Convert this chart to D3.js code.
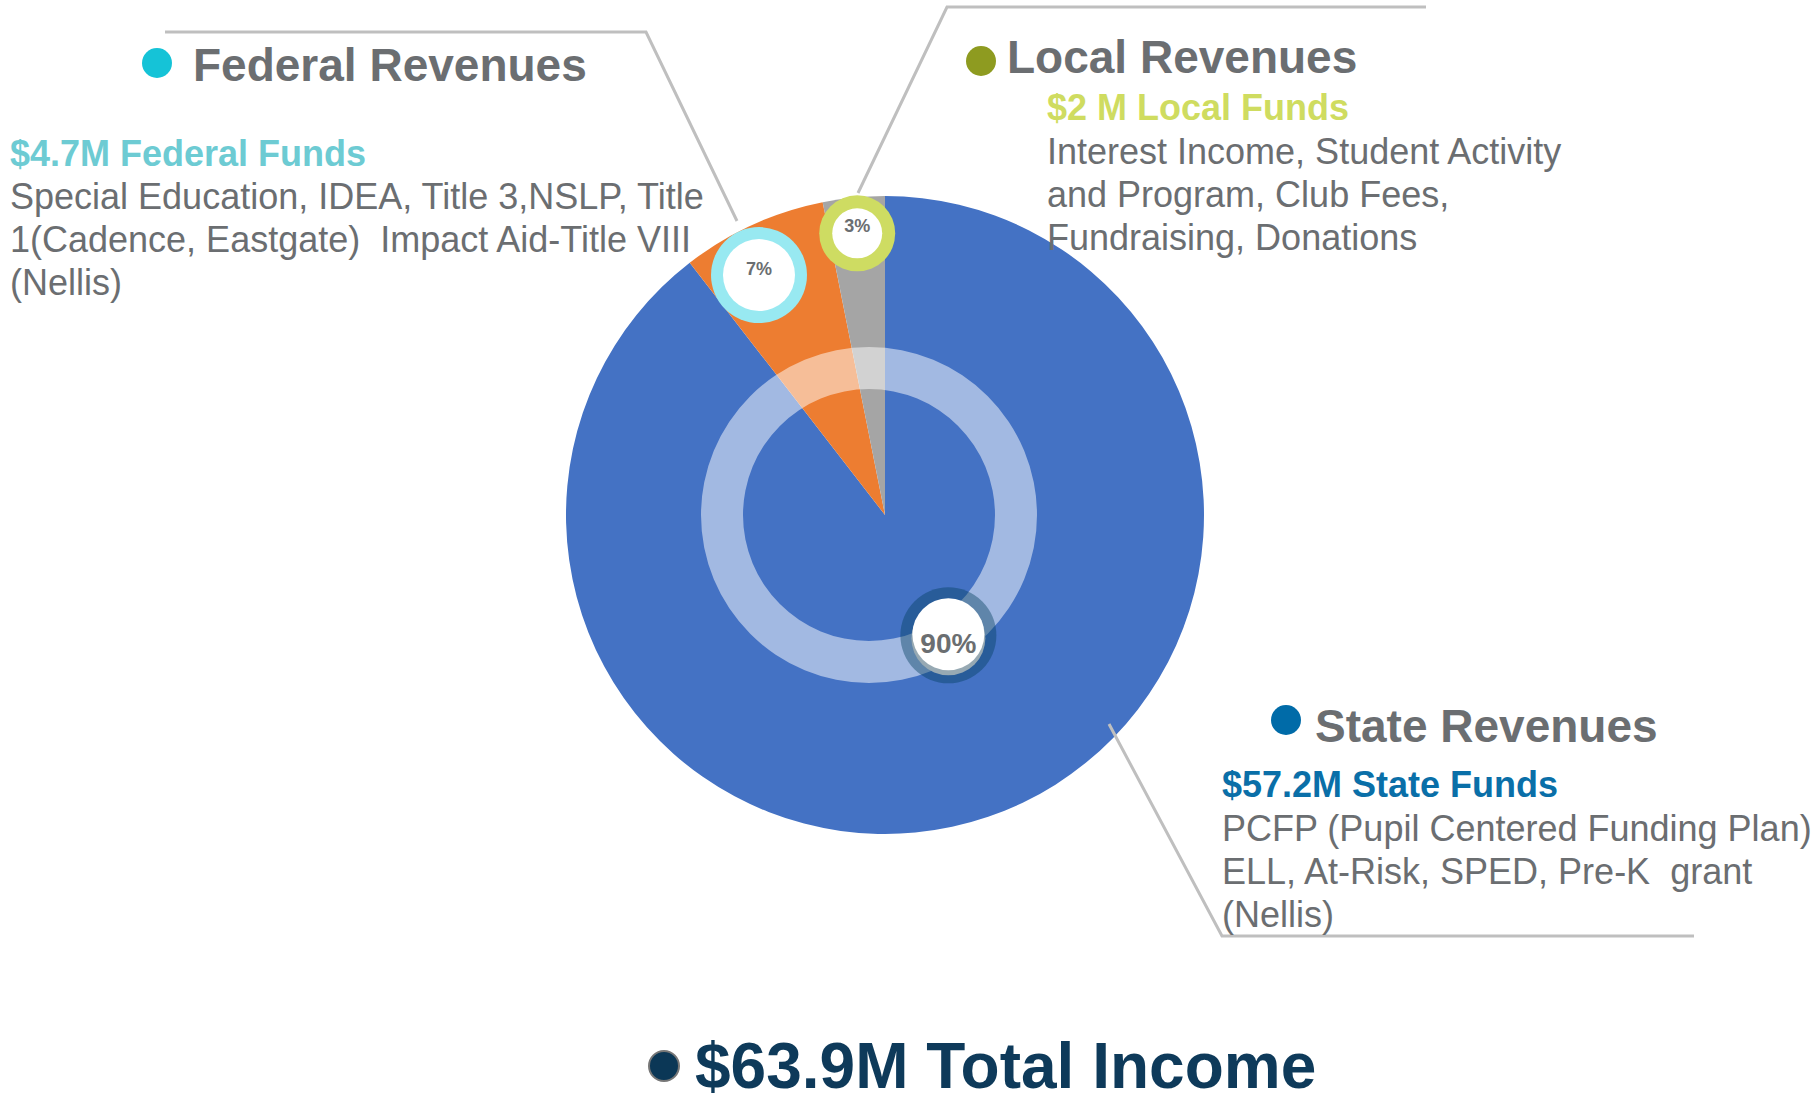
<!DOCTYPE html>
<html>
<head>
<meta charset="utf-8">
<script src="https://cdn.jsdelivr.net/npm/d3@7/dist/d3.min.js"></script>
<style>
  body { margin: 0; background: #fff; }
  svg { display: block; font-family: "Liberation Sans", Arial, sans-serif; }
  text { white-space: pre; }
</style>
</head>
<body>
<div class="d3-wrapper"></div>
<script>
// Data
const categories = ['State Revenues', 'Federal Revenues', 'Local Revenues'];
const amounts = [57.2, 4.7, 2.0];            // $M
const pctLabels = ['90%', '7%', '3%'];
const fundLabels = ['$57.2M State Funds', '$4.7M Federal Funds', '$2 M Local Funds'];
const descLines = [
  ['PCFP (Pupil Centered Funding Plan)', 'ELL, At-Risk, SPED, Pre-K  grant', '(Nellis)'],
  ['Special Education, IDEA, Title 3,NSLP, Title', '1(Cadence, Eastgate)  Impact Aid-Title VIII', '(Nellis)'],
  ['Interest Income, Student Activity', 'and Program, Club Fees,', 'Fundraising, Donations']
];
const totalLabel = '$63.9M Total Income';

const WIDTH = 1816, HEIGHT = 1095;
const PIE = { cx: 885, cy: 515, r: 319 };
const RING = { cx: 869, cy: 515, outer: 168, inner: 126 };

const sliceColors = ['#4472C4', '#ED7D31', '#A5A5A5'];
const dotColors = ['#006BA8', '#15C3D7', '#8E9B20'];
const fundColors = ['#0A6FA8', '#6DCBD3', '#CFDC60'];
const badgeColors = ['rgba(3,61,93,0.42)', '#98E9F1', '#CEDC62'];
const GRAY_TEXT = '#6B6E71';

// badge placement around the pie (radius from centre, angle tweak in degrees)
const badgeLayout = [
  { dist: 136, shift: -8.9, outer: 48, inner: 37, font: 28, dy: 18 },
  { dist: 271, shift: -3.2, outer: 48, inner: 36, font: 18, dy: 0 },
  { dist: 283, shift: 0, outer: 38, inner: 25, font: 18, dy: -1 }
];

// label block placement
const blocks = [
  { dot: [1286, 720], title: [1315, 742], fund: [1222, 797], desc: [1222, 841] },
  { dot: [157, 63], title: [193, 81], fund: [10, 166], desc: [10, 209] },
  { dot: [981, 61], title: [1007, 73], fund: [1047, 120], desc: [1047, 164] }
];
const LINE_H = 43;

const leaders = [
  [[1109, 724], [1222, 936], [1694, 936]],
  [[737, 221], [646, 32], [165, 32]],
  [[858, 193], [947, 7], [1426, 7]]
];

const svg = d3.select('.d3-wrapper').append('svg')
  .attr('width', WIDTH)
  .attr('height', HEIGHT);

svg.append('rect').attr('width', WIDTH).attr('height', HEIGHT).attr('fill', '#fff');

const pie = d3.pie().sort(null).value(d => d);
const arcs = pie(amounts);
const arc = d3.arc().innerRadius(0).outerRadius(PIE.r);

const pieG = svg.append('g')
  .attr('transform', `translate(${PIE.cx}, ${PIE.cy})`);

pieG.selectAll('path')
  .data(arcs)
  .enter()
  .append('path')
  .attr('d', arc)
  .attr('fill', (d, i) => sliceColors[i]);

// translucent inner ring
svg.append('path')
  .attr('transform', `translate(${RING.cx}, ${RING.cy})`)
  .attr('d', d3.arc().innerRadius(RING.inner).outerRadius(RING.outer).startAngle(0).endAngle(2 * Math.PI)())
  .attr('fill', '#fff')
  .attr('fill-opacity', 0.5);

// leader lines
svg.selectAll('.leader')
  .data(leaders)
  .enter()
  .append('path')
  .attr('class', 'leader')
  .attr('d', d => d3.line()(d))
  .attr('fill', 'none')
  .attr('stroke', '#BFBFBF')
  .attr('stroke-width', 3);

// percentage badges
const polar = (angle, dist) => [
  PIE.cx + dist * Math.sin(angle),
  PIE.cy - dist * Math.cos(angle)
];

arcs.forEach((a, i) => {
  const lay = badgeLayout[i];
  const mid = (a.startAngle + a.endAngle) / 2 + lay.shift * Math.PI / 180;
  const [x, y] = polar(mid, lay.dist);
  const g = svg.append('g').attr('transform', `translate(${x}, ${y})`);
  g.append('circle').attr('r', lay.outer).attr('fill', badgeColors[i]);
  if (i === 0) {
    g.append('circle').attr('cy', 3).attr('r', lay.inner).attr('fill', '#97A9B3');
    g.append('circle').attr('cy', -1).attr('r', lay.inner - 1).attr('fill', '#fff');
  } else {
    g.append('circle').attr('r', lay.inner).attr('fill', '#fff');
  }
  g.append('text')
    .attr('text-anchor', 'middle')
    .attr('y', lay.dy)
    .attr('font-size', lay.font)
    .attr('font-weight', 'bold')
    .attr('fill', GRAY_TEXT)
    .text(pctLabels[i]);
});

// label blocks
categories.forEach((cat, i) => {
  const b = blocks[i];
  svg.append('circle')
    .attr('cx', b.dot[0]).attr('cy', b.dot[1])
    .attr('r', 15)
    .attr('fill', dotColors[i]);
  svg.append('text')
    .attr('x', b.title[0]).attr('y', b.title[1])
    .attr('font-size', 46)
    .attr('font-weight', 'bold')
    .attr('fill', GRAY_TEXT)
    .text(cat);
  svg.append('text')
    .attr('x', b.fund[0]).attr('y', b.fund[1])
    .attr('font-size', 36)
    .attr('font-weight', 'bold')
    .attr('fill', fundColors[i])
    .text(fundLabels[i]);
  svg.append('g').selectAll('text')
    .data(descLines[i])
    .enter()
    .append('text')
    .attr('x', b.desc[0])
    .attr('y', (d, j) => b.desc[1] + j * LINE_H)
    .attr('font-size', 36)
    .attr('fill', GRAY_TEXT)
    .text(d => d);
});

// total
svg.append('circle')
  .attr('cx', 664).attr('cy', 1066)
  .attr('r', 15)
  .attr('fill', '#0B3756')
  .attr('stroke', '#777')
  .attr('stroke-width', 2);
svg.append('text')
  .attr('x', 695).attr('y', 1088)
  .attr('font-size', 64)
  .attr('font-weight', 'bold')
  .attr('fill', '#0E3A5A')
  .text(totalLabel);
</script>
</body>
</html>
